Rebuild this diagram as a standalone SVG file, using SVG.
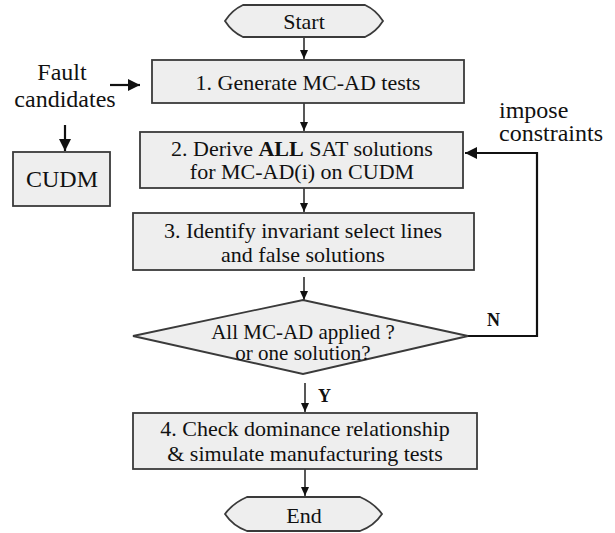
<svg xmlns="http://www.w3.org/2000/svg" width="615" height="533" viewBox="0 0 615 533">
<style>
text{font-family:"Liberation Serif",Tinos,"Times New Roman","Nimbus Roman","DejaVu Serif",serif;fill:#111}
.box{fill:#eeeeee;stroke:#3a3a3a;stroke-width:1.8}
.t{font-size:22px;text-anchor:middle}
.d{font-size:21px;text-anchor:middle}
.s{font-size:24px}
.m{text-anchor:middle}
.b{font-size:18px;font-weight:bold}
.thin{fill:none;stroke:#111;stroke-width:1.4}
.thick{fill:none;stroke:#111;stroke-width:2.2}
</style>
<defs>
<marker id="ah" markerWidth="10" markerHeight="10" refX="9" refY="5" orient="auto" markerUnits="userSpaceOnUse">
<path d="M0,1 L9,5 L0,9 Z" fill="#111"/>
</marker>
<marker id="ahb" markerWidth="14" markerHeight="14" refX="12" refY="6" orient="auto" markerUnits="userSpaceOnUse">
<path d="M0,0 L12,6 L0,12 Z" fill="#111"/>
</marker>
</defs>
<g id="connectors">
<line class="thin" x1="304" y1="37" x2="304" y2="59" marker-end="url(#ah)"/>
<line class="thin" x1="304" y1="103" x2="304" y2="131" marker-end="url(#ah)"/>
<line class="thin" x1="304" y1="188" x2="304" y2="212" marker-end="url(#ah)"/>
<line class="thin" x1="304" y1="277" x2="304" y2="300" marker-end="url(#ah)"/>
<line class="thin" x1="305" y1="383" x2="305" y2="412" marker-end="url(#ah)"/>
<line class="thin" x1="305" y1="469" x2="305" y2="496" marker-end="url(#ah)"/>
<line class="thick" x1="110" y1="85" x2="140" y2="85" marker-end="url(#ahb)"/>
<line class="thick" x1="65" y1="125" x2="65" y2="151" marker-end="url(#ahb)"/>
<polyline class="thick" points="468,336 537,336 537,153 465,153" marker-end="url(#ahb)"/>
<text class="b" x="487" y="326">N</text>
<text class="b" x="318" y="402">Y</text>
</g>
<g id="start">
<path class="box" d="M243,5 H365 Q376,10 383,21 Q376,32 365,37 H243 Q232,32 225,21 Q232,10 243,5 Z"/>
<text class="t" x="304" y="29">Start</text>
</g>
<g id="fault-candidates">
<text class="s m" x="62" y="80">Fault</text>
<text class="s m" x="65" y="107">candidates</text>
</g>
<g id="cudm">
<rect class="box" x="13" y="152" width="97" height="54"/>
<text class="s m" x="62" y="187">CUDM</text>
</g>
<g id="impose-constraints">
<text class="s" x="499" y="118">impose</text>
<text class="s" x="499" y="141">constraints</text>
</g>
<g id="step1">
<rect class="box" x="152" y="60" width="312" height="43"/>
<text class="t" x="308" y="90">1. Generate MC-AD tests</text>
</g>
<g id="step2">
<rect class="box" x="140" y="132" width="323" height="56"/>
<text class="t" x="302" y="156">2. Derive <tspan font-weight="bold">ALL</tspan> SAT solutions</text>
<text class="t" x="302" y="179">for MC-AD(i) on CUDM</text>
</g>
<g id="step3">
<rect class="box" x="133" y="213" width="341" height="57"/>
<text class="t" x="303" y="238">3. Identify invariant select lines</text>
<text class="t" x="303" y="262">and false solutions</text>
</g>
<g id="decision">
<polygon class="box" points="133,336 303,300 468,336 303,374"/>
<text class="d" x="303" y="339">All MC-AD applied ?</text>
<text class="d" x="303" y="360">or one solution?</text>
</g>
<g id="step4">
<rect class="box" x="133" y="413" width="344" height="56"/>
<text class="t" x="305" y="436">4. Check dominance relationship</text>
<text class="t" x="305" y="461">&amp; simulate manufacturing tests</text>
</g>
<g id="end">
<path class="box" d="M247,497 H360 Q374,503 382,514 Q374,526 360,531 H247 Q233,526 225,514 Q233,503 247,497 Z"/>
<text class="t" x="304" y="523">End</text>
</g>
</svg>
